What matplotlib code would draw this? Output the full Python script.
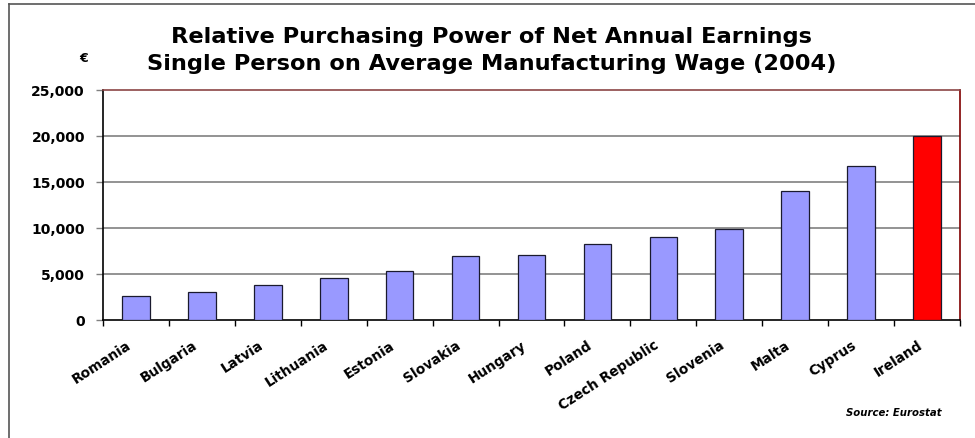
import numpy as np
import matplotlib
matplotlib.use('Agg')
import matplotlib.pyplot as plt
import matplotlib.transforms as mtransforms
from matplotlib.lines import Line2D

plt.rcParams['font.family'] = ['DejaVu Sans']

# net annual earnings, single person on average manufacturing wage (2004)
countries = ['Romania', 'Bulgaria', 'Latvia', 'Lithuania', 'Estonia', 'Slovakia',
             'Hungary', 'Poland', 'Czech Republic', 'Slovenia', 'Malta', 'Cyprus', 'Ireland']
earnings = [2600, 3000, 3800, 4550, 5300, 7000, 7050, 8300, 9000, 9850, 14000, 16700, 20000]
yticks = [0, 5000, 10000, 15000, 20000, 25000]

fig = plt.figure(figsize=(9.75, 4.39), dpi=100)
ax = fig.add_axes([103/975, 1 - 321/439, (960 - 103)/975, (321 - 90.7)/439])

x = np.arange(len(countries))
colors = ['#9999FF'] * (len(countries) - 1) + ['#FF0000']
ax.bar(x, earnings, width=0.42, color=colors, edgecolor='#1a1a2e', linewidth=0.9, zorder=3)

ax.set_xlim(-0.5, len(countries) - 0.5)
ax.set_ylim(0, 25000)
ax.set_yticks(yticks)
ax.set_yticklabels(['{:,}'.format(v) for v in yticks], fontsize=10, fontweight='bold')
for v in yticks[1:-1]:
    ax.axhline(v, color='#808080', linewidth=1.2, zorder=1)

# category ticks sit between bars
ax.set_xticks(np.arange(len(countries) + 1) - 0.5, minor=True)
ax.set_xticks(x)
ax.set_xticklabels(countries, rotation=33, ha='right', rotation_mode='anchor',
                   fontsize=9.8, fontweight='bold')
ax.tick_params(axis='x', which='major', length=0, pad=11)
ax.tick_params(axis='x', which='minor', length=4, width=1, direction='out')
ax.tick_params(axis='y', length=5, width=1, color='#808080', pad=8)
shift = mtransforms.ScaledTranslation(-10/100, -2/100, fig.dpi_scale_trans)
for lbl in ax.get_xticklabels():
    lbl.set_transform(lbl.get_transform() + shift)

ax.spines['left'].set_color('#000000')
ax.spines['bottom'].set_color('#000000')
ax.spines['top'].set_color('#8B4545')
ax.spines['right'].set_color('#800000')
for s in ax.spines.values():
    s.set_linewidth(1.2)

fig.text(492/975, 1 - 43/439, 'Relative Purchasing Power of Net Annual Earnings',
         ha='center', va='baseline', fontsize=16.2, fontweight='bold')
fig.text(492/975, 1 - 70/439, 'Single Person on Average Manufacturing Wage (2004)',
         ha='center', va='baseline', fontsize=16.2, fontweight='bold')
fig.text(84/975, 1 - 58/439, '€', ha='center', va='center', fontsize=9, fontweight='bold')
fig.text(942/975, 1 - 413/439, 'Source: Eurostat', ha='right', va='center',
         fontsize=7.3, fontweight='bold', style='italic')

# outer chart frame
fig.add_artist(Line2D([9/975, 9/975], [0, 1 - 5/439], transform=fig.transFigure,
                      color='#555555', linewidth=1.2))
fig.add_artist(Line2D([9/975, 1], [1 - 5/439, 1 - 5/439], transform=fig.transFigure,
                      color='#555555', linewidth=1.2))

fig.savefig('out.png', dpi=100)
